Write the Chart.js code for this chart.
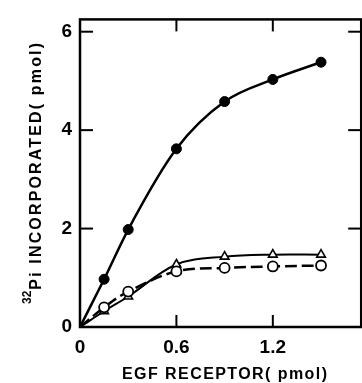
<!DOCTYPE html>
<html>
<head>
<meta charset="utf-8">
<script src="https://cdn.jsdelivr.net/npm/chart.js@4/dist/chart.umd.min.js"></script>
<style>
html,body{margin:0;padding:0;background:#fff;overflow:hidden;}
#wrap{position:relative;width:368px;height:383px;}
</style>
</head>
<body>
<div id="wrap"><canvas id="c"></canvas></div>
<script>
// ---- data ----
const xValues = [0, 0.15, 0.3, 0.6, 0.9, 1.2, 1.5];
const filledCircle = [0, 0.97, 1.98, 3.62, 4.58, 5.03, 5.38];
const openTriangle = [0, 0.32, 0.62, 1.27, 1.43, 1.47, 1.47];
const openCircle = [0, 0.40, 0.72, 1.13, 1.20, 1.23, 1.25];
const xTickValues = [0, 0.6, 1.2];
const yTickValues = [0, 2, 4, 6];
const xTitle = "EGF RECEPTOR( pmol)";
const yTitleSup = "32";
const yTitleMain = "Pi INCORPORATED( pmol)";

const toPts = ys => xValues.map((x, i) => ({x: x, y: ys[i]}));
const radii = xValues.map(x => x === 0 ? 0 : 5);

function spacedText(ctx, text, x, y, targetW) {
  ctx.letterSpacing = '0px';
  const w = ctx.measureText(text).width;
  const sp = (targetW - w) / (text.length - 1);
  ctx.letterSpacing = sp + 'px';
  ctx.fillText(text, x, y);
  ctx.letterSpacing = '0px';
}

const framePlugin = {
  id: 'frame',
  beforeDatasetsDraw(chart) {
    const {ctx, chartArea: a, scales: {x, y}} = chart;
    ctx.save();
    ctx.strokeStyle = '#000';
    ctx.lineCap = 'butt';
    ctx.lineWidth = 2.5;
    ctx.strokeRect(a.left, a.top, a.right - a.left, a.bottom - a.top);
    ctx.lineWidth = 2;
    const line = (x1, y1, x2, y2) => { ctx.beginPath(); ctx.moveTo(x1, y1); ctx.lineTo(x2, y2); ctx.stroke(); };
    y.ticks.forEach(t => {
      if (t.value === 0) return;
      const py = y.getPixelForValue(t.value);
      line(a.left, py, a.left + 13, py);
      line(a.right, py, a.right - 13, py);
    });
    x.ticks.forEach(t => {
      if (t.value === 0) return;
      const px = x.getPixelForValue(t.value);
      line(px, a.bottom, px, a.bottom - 12);
      line(px, a.top, px, a.top + 12);
    });
    // axis titles
    ctx.fillStyle = '#000';
    ctx.font = 'bold 16px "Liberation Sans", Arial, sans-serif';
    ctx.textBaseline = 'alphabetic';
    ctx.textAlign = 'left';
    spacedText(ctx, xTitle, 122, 379, 205);
    ctx.translate(41, 304);
    ctx.rotate(-Math.PI / 2);
    ctx.font = 'bold 12px "Liberation Sans", Arial, sans-serif';
    ctx.fillText(yTitleSup, 0, -10);
    const supW = ctx.measureText(yTitleSup).width + 1;
    ctx.font = 'bold 16px "Liberation Sans", Arial, sans-serif';
    spacedText(ctx, yTitleMain, supW, 0, 261 - supW);
    ctx.restore();
  }
};

new Chart(document.getElementById('c'), {
  type: 'line',
  data: {
    datasets: [
      {
        label: 'filled', data: toPts(filledCircle),
        borderColor: '#000', backgroundColor: '#000', borderWidth: 2.5,
        pointStyle: 'circle', pointRadius: radii, pointBackgroundColor: '#000',
        pointBorderColor: '#000', pointBorderWidth: 1, cubicInterpolationMode: 'monotone'
      },
      {
        label: 'circle', data: toPts(openCircle),
        borderColor: '#000', borderWidth: 2.5, borderDash: [12, 5],
        pointStyle: 'circle', pointRadius: radii, pointBackgroundColor: '#fff',
        pointBorderColor: '#000', pointBorderWidth: 1.8, tension: 0.35
      },
      {
        label: 'triangle', data: toPts(openTriangle),
        borderColor: '#000', borderWidth: 2,
        pointStyle: 'triangle', pointRadius: radii, pointBackgroundColor: '#fff',
        pointBorderColor: '#000', pointBorderWidth: 1.6, tension: 0.35
      }
    ]
  },
  options: {
    responsive: true, maintainAspectRatio: false, animation: false,
    layout: {padding: {top: 12, right: 1, left: 0, bottom: 0}},
    plugins: {legend: {display: false}, tooltip: {enabled: false}},
    scales: {
      x: {
        type: 'linear', min: 0, max: 1.75,
        grid: {display: false, drawTicks: false}, border: {display: false},
        afterFit: s => { s.height = 56; },
        afterBuildTicks: s => { s.ticks = xTickValues.map(v => ({value: v})); },
        ticks: {
          padding: 9, color: '#000', maxRotation: 0, autoSkip: false,
          font: {family: '"Liberation Sans", Arial, sans-serif', size: 19, weight: 'bold'},
          callback: v => v === 0 ? '0' : v.toFixed(1)
        }
      },
      y: {
        type: 'linear', min: 0, max: 6.25,
        grid: {display: false, drawTicks: false}, border: {display: false},
        afterFit: s => { s.width = 80; },
        afterBuildTicks: s => { s.ticks = yTickValues.map(v => ({value: v})); },
        ticks: {
          padding: 8, color: '#000', autoSkip: false,
          font: {family: '"Liberation Sans", Arial, sans-serif', size: 19, weight: 'bold'},
          callback: v => String(v)
        }
      }
    }
  },
  plugins: [framePlugin]
});
</script>
</body>
</html>
